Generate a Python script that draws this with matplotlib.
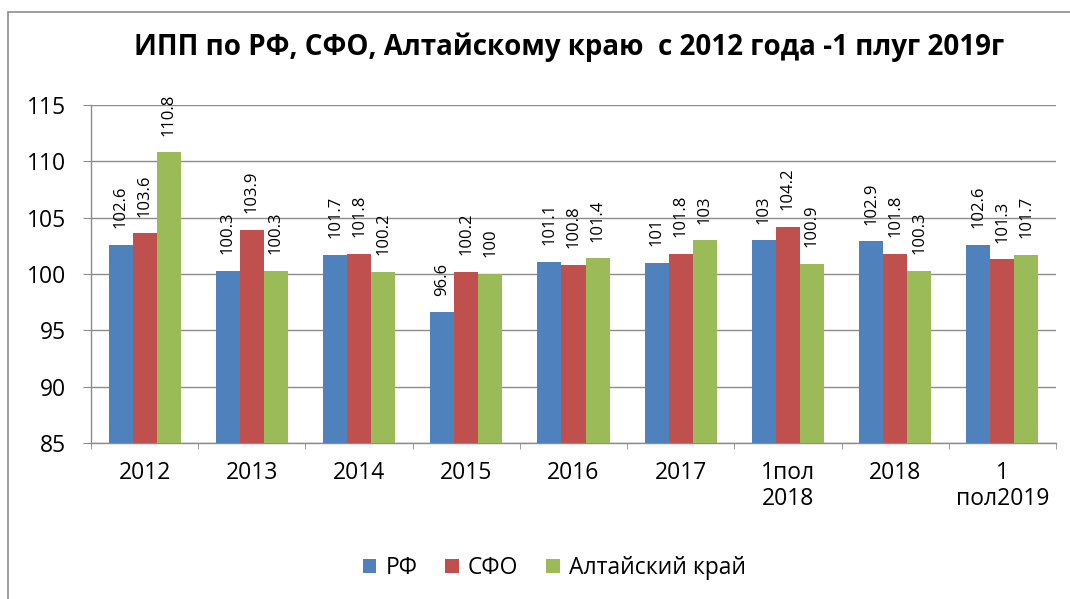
import matplotlib
matplotlib.use("Agg")
import matplotlib.pyplot as plt
import matplotlib.patches as mpatches
import numpy as np

plt.rcParams['font.family'] = ['Open Sans', 'DejaVu Sans']

categories = ["2012", "2013", "2014", "2015", "2016", "2017", "1пол\n2018", "2018", "1\nпол2019"]
rf = [102.6, 100.3, 101.7, 96.6, 101.1, 101, 103, 102.9, 102.6]
sfo = [103.6, 103.9, 101.8, 100.2, 100.8, 101.8, 104.2, 101.8, 101.3]
altai = [110.8, 100.3, 100.2, 100, 101.4, 103, 100.9, 100.3, 101.7]
series_names = ["РФ", "СФО", "Алтайский край"]
colors = ["#4F81BD", "#C0504D", "#9BBB59"]
title = "ИПП по РФ, СФО, Алтайскому краю  с 2012 года -1 плуг 2019г"

W, H = 1070, 599
fig = plt.figure(figsize=(W / 100, H / 100), dpi=100)
ax = fig.add_axes([91 / W, 1 - 443 / H, (1056 - 91) / W, (443 - 105) / H])

x = np.arange(len(categories))
bw = 0.224
grey = "#8C8C8C"
for i, (vals, name, c) in enumerate(zip([rf, sfo, altai], series_names, colors)):
    pos = x + (i - 1) * bw
    ax.bar(pos, np.array(vals) - 85, bottom=85, width=bw, color=c, label=name, zorder=3)
    for p, v in zip(pos, vals):
        ax.annotate(f"{v:g}", (p, v), xytext=(0, 12), textcoords="offset points",
                    rotation=90, ha="center", va="bottom", fontsize=12,
                    color="black", zorder=4, annotation_clip=False)

ax.set_ylim(85, 115)
ax.set_xlim(-0.5, len(categories) - 0.5)
ax.set_yticks(np.arange(85, 116, 5))
ax.yaxis.grid(True, color=grey, linewidth=1, zorder=0)
ax.set_axisbelow(True)
for s in ["top", "right"]:
    ax.spines[s].set_visible(False)
for s in ["left", "bottom"]:
    ax.spines[s].set_color(grey)
    ax.spines[s].set_linewidth(1)
ax.tick_params(axis="y", length=5.8, color=grey, labelsize=16.5, pad=12)
ax.set_xticks(x)
ax.set_xticklabels(categories, fontsize=16.5, linespacing=1.1, va="top")
ax.tick_params(axis="x", length=0, pad=13)
ax.set_xticks(np.arange(-0.5, len(categories)), minor=True)
ax.tick_params(axis="x", which="minor", length=4.3, color=grey)

fig.text(0.532, 1 - 47 / H, title, ha="center", va="center", fontsize=20, fontweight="bold")

leg = fig.legend(loc="center", bbox_to_anchor=(0.518, 1 - 568 / H), ncol=3, frameon=False,
                 fontsize=16.5, handlelength=0.6, handleheight=0.6, handletextpad=0.4,
                 columnspacing=1.2)

border = mpatches.Rectangle((8 / W, -0.1), 1.2, 1 - 12 / H + 0.1, transform=fig.transFigure,
                            fill=False, edgecolor=grey, linewidth=1.2)
fig.patches.append(border)

fig.savefig("out.png", dpi=100)
